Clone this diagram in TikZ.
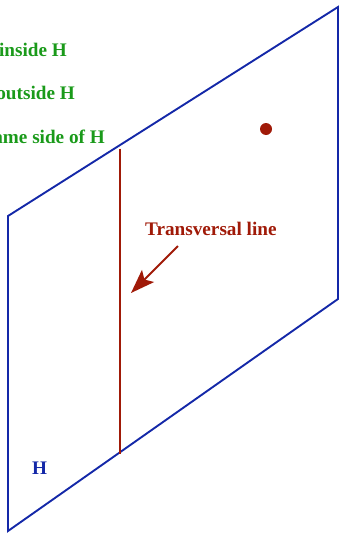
\documentclass[tikz,border=0pt]{standalone}
\usepackage{fontspec}
\setmainfont{Liberation Serif}
\usetikzlibrary{arrows.meta}
\definecolor{planeblue}{HTML}{1428A8}
\definecolor{txtgreen}{HTML}{1A9A1A}
\definecolor{darkred}{HTML}{A01A08}
\tikzset{
  plane/.style={draw=planeblue, line width=1.9pt, line join=miter},
  lblfont/.style={font=\fontsize{19.2}{21}\selectfont\bfseries, inner sep=0pt},
  greenlbl/.style={lblfont, text=txtgreen, anchor=base east},
  redline/.style={draw=darkred, line width=1.9pt},
}
\begin{document}
\begin{tikzpicture}[x=1pt,y=-1pt]
\useasboundingbox (0,0) rectangle (339,533);
\coordinate (A) at (8,216);
\coordinate (B) at (338,7);
\coordinate (C) at (338,299);
\coordinate (D) at (8,531);
\draw[plane] (A) -- (B) -- (C) -- (D) -- cycle;
\coordinate (T1) at (120.3,148.5);
\coordinate (T2) at (120.3,454);
\draw[redline] (T1) -- (T2);
\fill[darkred] (266,129) circle (6pt) node (P) {};
\node[greenlbl] (l1) at (67,56) {inside H};
\node[greenlbl] (l2) at (75,99) {outside H};
\node[greenlbl] (l3) at (105,143) {same side of H};
\node[lblfont, text=darkred, anchor=base west] (tl) at (145,235) {Transversal line};
\coordinate (a1) at (178,246);
\coordinate (a2) at (131,293);
\draw[draw=darkred, line width=1.9pt, -{Stealth[length=24pt,width=17pt,inset=5pt]}] (a1) -- (a2);
\node[lblfont, text=planeblue, anchor=base] (hl) at (39.5,474) {H};
\end{tikzpicture}
\end{document}
